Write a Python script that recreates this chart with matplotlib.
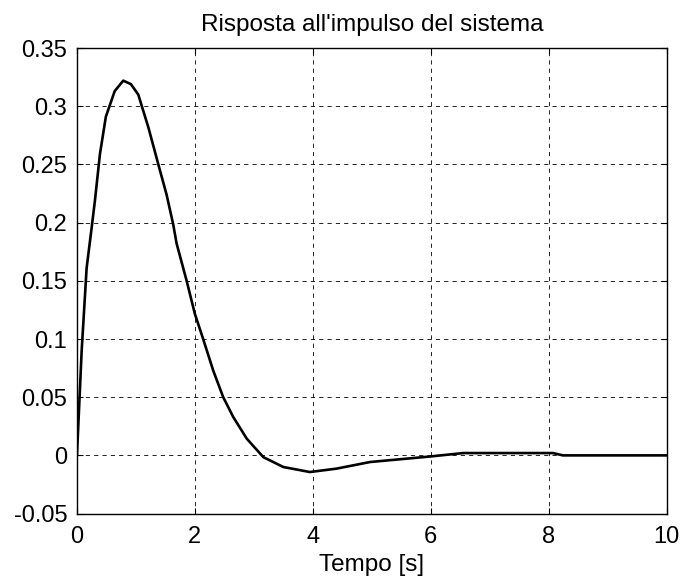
import matplotlib
matplotlib.use("Agg")
import matplotlib.pyplot as plt

# impulse response samples
t = [0.0, 0.08, 0.164, 0.25, 0.305, 0.39, 0.49, 0.64, 0.785, 0.915, 1.04,
     1.21, 1.38, 1.52, 1.63, 1.69, 1.86, 2.0, 2.14, 2.31, 2.48, 2.65, 2.88,
     3.16, 3.5, 3.95, 4.4, 4.97, 5.98, 6.55, 8.07, 8.24, 10.0]
y = [0.0, 0.09, 0.161, 0.196, 0.219, 0.259, 0.291, 0.313, 0.322, 0.319, 0.31,
     0.282, 0.25, 0.224, 0.199, 0.182, 0.15, 0.1215, 0.1, 0.073, 0.05, 0.033,
     0.0143, -0.0015, -0.01, -0.0143, -0.0114, -0.0057, -0.001, 0.002, 0.002,
     0.0, 0.0]

xticks = [0, 2, 4, 6, 8, 10]
yticks = [-0.05, 0, 0.05, 0.1, 0.15, 0.2, 0.25, 0.3, 0.35]
ytick_labels = ["-0.05", "0", "0.05", "0.1", "0.15", "0.2", "0.25", "0.3", "0.35"]

plt.rcParams["font.family"] = ["Liberation Sans", "DejaVu Sans"]

fig = plt.figure(figsize=(6.81, 5.79), dpi=100)
ax = fig.add_axes([0.113, 0.113, 0.866, 0.804])

ax.plot(t, y, color="black", linewidth=1.9)

ax.set_xlim(0, 10)
ax.set_ylim(-0.05, 0.35)
ax.set_xticks(xticks)
ax.set_xticklabels([str(v) for v in xticks])
ax.set_yticks(yticks)
ax.set_yticklabels(ytick_labels)
ax.tick_params(direction="in", top=True, right=True, length=4, labelsize=17)
ax.tick_params(axis="x", pad=9)
ax.tick_params(axis="y", pad=7)
ax.grid(True, color="black", linestyle=(0, (5, 5)), linewidth=0.6)
for s in ax.spines.values():
    s.set_linewidth(1.0)

ax.set_title("Risposta all'impulso del sistema", fontsize=17.5, pad=12)
ax.set_xlabel("Tempo [s]", fontsize=17.5, labelpad=4)

fig.savefig("out.png", dpi=100)
